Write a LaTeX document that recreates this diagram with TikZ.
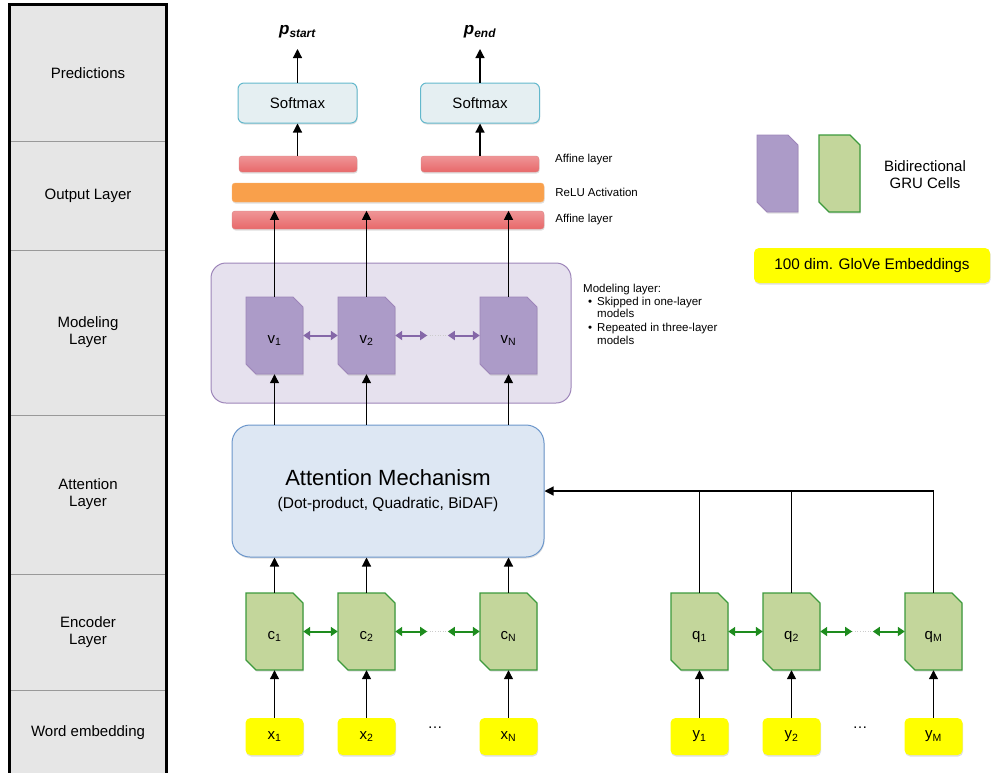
\documentclass[tikz,border=0pt]{standalone}
\usepackage{fontspec}
\setmainfont{Liberation Sans}
\usetikzlibrary{arrows.meta, positioning, shadows}

\definecolor{rowgray}{HTML}{E6E6E6}
\definecolor{grufill}{HTML}{C3D69B}
\definecolor{gruline}{HTML}{3C9A3C}
\definecolor{gruarrow}{HTML}{1E8C1E}
\definecolor{modfill}{HTML}{AC9BC8}
\definecolor{modline}{HTML}{8567A8}
\definecolor{modbg}{HTML}{E6E1EE}
\definecolor{attfill}{HTML}{DDE7F3}
\definecolor{attline}{HTML}{6B96CB}
\definecolor{smfill}{HTML}{E5EFF2}
\definecolor{smline}{HTML}{63B8CC}
\definecolor{affred}{HTML}{E8686A}
\definecolor{affline}{HTML}{C9504E}
\definecolor{reluorange}{HTML}{F9A04B}
\definecolor{glove}{HTML}{FFFF00}

\tikzset{
  softshadow/.style={drop shadow={shadow xshift=0.6pt, shadow yshift=-1.5pt, opacity=0.25}},
  rowbox/.style={draw=gray!80, fill=rowgray, minimum width=156pt, align=center,
    inner sep=0pt, font=\fontsize{15}{17}\selectfont},
  cellnode/.style={rectangle, minimum height=77pt, inner sep=0pt, font=\fontsize{15}{17}\selectfont},
  enccell/.style={fill=grufill, draw=gruline, line width=1.2pt, softshadow},
  modcell/.style={fill=modfill, draw=modline!80, line width=0.8pt, softshadow},
  wordbox/.style={fill=glove, rounded corners=5pt, minimum width=58pt, minimum height=37pt,
    inner sep=0pt, softshadow, font=\fontsize{15}{17}\selectfont},
  affbar/.style={top color=affred!70!white, bottom color=affred, draw=affline!70, rounded corners=3pt,
    minimum height=16pt, inner sep=0pt, softshadow},
  relubar/.style={fill=reluorange, draw=reluorange!80!white, rounded corners=3pt,
    minimum width=312pt, minimum height=19pt, inner sep=0pt, softshadow},
  softbox/.style={fill=smfill, draw=smline, line width=1pt, rounded corners=6pt,
    minimum width=119pt, minimum height=40pt, font=\fontsize{15}{17}\selectfont, softshadow},
  barlabel/.style={inner sep=0pt, font=\fontsize{11.5}{13}\selectfont},
  plabel/.style={font=\fontsize{17}{19}\selectfont\bfseries\itshape},
  arr/.style={-{Triangle[length=9pt,width=9pt]}, line width=1.2pt},
  garr/.style={{Triangle[length=7pt,width=9pt]}-{Triangle[length=7pt,width=9pt]}, line width=2pt, draw=gruarrow},
  parr/.style={{Triangle[length=7pt,width=9pt]}-{Triangle[length=7pt,width=9pt]}, line width=2pt, draw=modline},
  gap/.style={dotted, gray!40, line width=0.6pt}
}

% cell with two cut corners: style, name, centre, width, label
\newcommand{\grucell}[5]{%
  \path[#1] ([shift={(-#4/2,-38.5)}]#3) -- ++(#4-10,0) -- ++(10,10) -- ++(0,67)
    -- ++(-#4+10,0) -- ++(-10,-10) -- cycle;
  \node[cellnode, minimum width=#4] (#2) at (#3) {\raisebox{-7.5pt}[0pt][0pt]{#5}};
}

\begin{document}
\begin{tikzpicture}[x=1pt, y=-1pt]
  \useasboundingbox (0,0) rectangle (992,772);

  % layer column
  \node[rowbox, minimum height=136pt] (rowpred) at (88,73) {Predictions};
  \node[rowbox, minimum height=109pt] (rowout) at (88,195.5) {Output Layer};
  \node[rowbox, minimum height=165pt] (rowmod) at (88,332.5) {Modeling\\Layer};
  \node[rowbox, minimum height=159pt] (rowatt) at (88,494.5) {Attention\\Layer};
  \node[rowbox, minimum height=117pt] (rowenc) at (88,632.5) {Encoder\\Layer};
  \node[rowbox, minimum height=84pt] (rowemb) at (88,732.5) {Word embedding};
  \draw[line width=3pt] (rowpred.north west) rectangle (rowemb.south east);

  % modeling layer frame
  \node[fill=modbg, draw=modline!80, line width=1pt, rounded corners=15pt,
    minimum width=360pt, minimum height=140pt] (modbox) at (391,333) {};

  % output layer
  \node[affbar, minimum width=118pt] (affs) at (298,164) {};
  \node[affbar, minimum width=118pt] (affe) at (480,164) {};
  \node[relubar] (relu) at (388,192.5) {};
  \node[affbar, minimum width=312pt, minimum height=18pt] (affb) at (388,220) {};
  \node[barlabel, anchor=west] (affslabel) at (555,159.5) {Affine layer};
  \node[barlabel, right=11pt of relu] (relulabel) {ReLU Activation};
  \node[barlabel, right=11pt of affb] (affblabel) {Affine layer};

  \node[softbox] (smstart) at (297.5,103) {Softmax};
  \node[softbox] (smend) at (480,103) {Softmax};
  \node[plabel, anchor=south] (pstart) at (297.5,42) {p\textsubscript{start}};
  \node[plabel, anchor=south] (pend) at (480,42) {p\textsubscript{end}};

  % attention
  \node[fill=attfill, draw=attline, line width=1pt, rounded corners=18pt, softshadow,
    minimum width=312pt, minimum height=132pt, align=center,
    font=\fontsize{22}{23}\selectfont] (att) at (388,491)
    {Attention Mechanism\\
     {\fontsize{15.5}{18}\selectfont (Dot-product, Quadratic, BiDAF)}};

  % GRU cells
  \grucell{modcell}{v1}{274.5,335.5}{57}{v\textsubscript{1}}
  \grucell{modcell}{v2}{366.5,335.5}{57}{v\textsubscript{2}}
  \grucell{modcell}{vN}{508.5,335.5}{57}{v\textsubscript{N}}
  \grucell{enccell}{c1}{274.5,631.5}{57}{c\textsubscript{1}}
  \grucell{enccell}{c2}{366.5,631.5}{57}{c\textsubscript{2}}
  \grucell{enccell}{cN}{508.5,631.5}{57}{c\textsubscript{N}}
  \grucell{enccell}{q1}{699.5,631.5}{57}{q\textsubscript{1}}
  \grucell{enccell}{q2}{791.5,631.5}{57}{q\textsubscript{2}}
  \grucell{enccell}{qM}{933.5,631.5}{57}{q\textsubscript{M}}

  % word embeddings
  \node[wordbox] (x1) at (274.5,736.5) {x\textsubscript{1}};
  \node[wordbox] (x2) at (366.5,736.5) {x\textsubscript{2}};
  \node[wordbox] (xN) at (508.5,736.5) {x\textsubscript{N}};
  \node[wordbox] (y1) at (699.5,736.5) {y\textsubscript{1}};
  \node[wordbox] (y2) at (791.5,736.5) {y\textsubscript{2}};
  \node[wordbox] (yM) at (933.5,736.5) {y\textsubscript{M}};
  \node[font=\fontsize{15}{17}\selectfont] (xdots) at (435,728) {\dots};
  \node[font=\fontsize{15}{17}\selectfont] (ydots) at (860,728) {\dots};

  % legend
  \grucell{modcell}{legv}{777.5,173.5}{41}{}
  \grucell{enccell}{legc}{839.5,173.5}{41}{}
  \node[align=center, font=\fontsize{15}{17}\selectfont] (legtext) at (925,175)
    {Bidirectional\\GRU Cells};
  \node[fill=glove, rounded corners=5pt, minimum width=236pt, minimum height=35pt,
    softshadow, font=\fontsize{15.3}{17}\selectfont] (glovebox) at (872,265.5)
    {100 dim. GloVe Embeddings};

  % modeling note
  \node[anchor=north west, inner sep=0pt, font=\fontsize{11.5}{12.5}\selectfont] (modnote) at (583,284)
    {\begin{tabular}{@{}l@{\hspace{5pt}}l@{}}
      \multicolumn{2}{@{}l@{}}{Modeling layer:}\\
      \hspace{5pt}\textbullet & Skipped in one-layer\\
       & models\\[1.5pt]
      \hspace{5pt}\textbullet & Repeated in three-layer\\
       & models
     \end{tabular}};

  % recurrent links
  \coordinate (cgap1) at ([xshift=32pt]c2.east);
  \coordinate (cgap2) at ([xshift=-32pt]cN.west);
  \coordinate (qgap1) at ([xshift=32pt]q2.east);
  \coordinate (qgap2) at ([xshift=-32pt]qM.west);
  \coordinate (vgap1) at ([xshift=32pt]v2.east);
  \coordinate (vgap2) at ([xshift=-32pt]vN.west);
  \draw[garr] (c1.east) -- (c2.west);
  \draw[garr] (c2.east) -- (cgap1);
  \draw[gap] (cgap1) -- (cgap2);
  \draw[garr] (cgap2) -- (cN.west);
  \draw[garr] (q1.east) -- (q2.west);
  \draw[garr] (q2.east) -- (qgap1);
  \draw[gap] (qgap1) -- (qgap2);
  \draw[garr] (qgap2) -- (qM.west);
  \draw[parr] (v1.east) -- (v2.west);
  \draw[parr] (v2.east) -- (vgap1);
  \draw[gap] (vgap1) -- (vgap2);
  \draw[parr] (vgap2) -- (vN.west);

  % data flow
  \foreach \n in {1,2,N} {
    \draw[arr] (x\n.north) -- (c\n.south);
    \draw[arr] (c\n.north) -- (c\n.north |- att.south);
    \draw[arr] (v\n.south |- att.north) -- (v\n.south);
    \draw[arr] (v\n.north) -- (v\n.north |- affb.north);
  }
  \foreach \n in {1,2,M} {
    \draw[arr] (y\n.north) -- (q\n.south);
  }
  \draw[line width=1.2pt] (q1.north) -- (q1.north |- att.east);
  \draw[line width=1.2pt] (q2.north) -- (q2.north |- att.east);
  \draw[arr] (qM.north) |- (att.east);
  \draw[arr] (affs.north -| smstart.south) -- (smstart.south);
  \draw[arr] (affe.north -| smend.south) -- (smend.south);
  \draw[arr, shorten >=7pt] (smstart.north) -- (pstart.south);
  \draw[arr, shorten >=7pt] (smend.north) -- (pend.south);
\end{tikzpicture}
\end{document}
